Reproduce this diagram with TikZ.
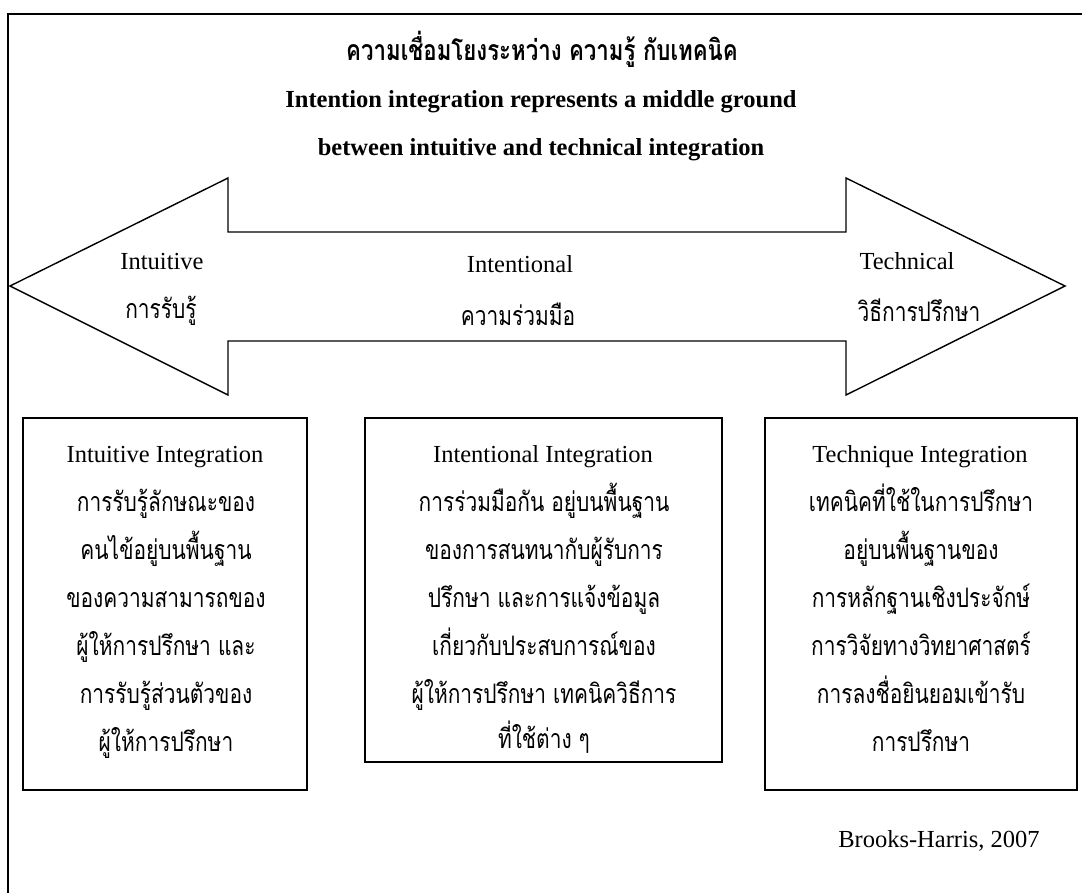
\documentclass[tikz,border=0pt]{standalone}
\usepackage{fontspec}
\setmainfont{Liberation Serif}
\newfontfamily\thai[Script=Thai, FakeStretch=0.78]{Loma}
\begin{document}
\begin{tikzpicture}[x=1pt,y=-1pt,
  en/.style={font=\fontsize{24.5}{29}\selectfont, inner sep=0pt, anchor=base},
  th/.style={font=\thai\fontsize{26.8}{29}\selectfont, inner sep=0pt, anchor=base},
  ttl/.style={font=\bfseries\fontsize{24.5}{29}\selectfont, inner sep=0pt, anchor=base},
  ttlth/.style={font=\thai\bfseries\fontsize{28.5}{29}\selectfont, inner sep=0pt, anchor=base},
  frame/.style={line width=2pt, line cap=rect},
  bigarrow/.style={draw, line width=1.4pt, line join=miter},
  box/.style={draw, line width=1.6pt, rectangle, inner sep=0pt}]
\useasboundingbox (0,0) rectangle (1082,892);

% outer frame (top and left edges)
\draw[frame] (8,892) -- (8,14) -- (1082,14);

% title
\node[ttlth] (t1) at (542,60) {ความเชื่อมโยงระหว่าง ความรู้ กับเทคนิค};
\node[ttl] (t2) at (541,107) {Intention integration represents a middle ground};
\node[ttl] (t3) at (541,155) {between intuitive and technical integration};

% double-headed block arrow
\draw[bigarrow] (10,286) -- (228,178) -- (228,232) -- (846,232) -- (846,178)
  -- (1065,286) -- (846,395) -- (846,341) -- (228,341) -- (228,395) -- cycle;

\node[en] (a1) at (162,269) {Intuitive};
\node[th] (a2) at (161,318) {การรับรู้};
\node[en] (b1) at (520,272) {Intentional};
\node[th] (b2) at (518,325) {ความร่วมมือ};
\node[en] (c1) at (907,269) {Technical};
\node[th] (c2) at (919,321) {วิธีการปรึกษา};

% three boxes
\node[box, minimum width=284pt, minimum height=372pt] (L) at (165,604) {};
\node[box, minimum width=357pt, minimum height=344pt] (M) at (543.5,590) {};
\node[box, minimum width=312pt, minimum height=372pt] (R) at (921,604) {};

% left box text
\node[en] (l0) at (165,462) {Intuitive Integration};
\node[th] (l1) at (166,511) {การรับรู้ลักษณะของ};
\node[th] (l2) at (166,559) {คนไข้อยู่บนพื้นฐาน};
\node[th] (l3) at (166,607) {ของความสามารถของ};
\node[th] (l4) at (166,655) {ผู้ให้การปรึกษา และ};
\node[th] (l5) at (166,703) {การรับรู้ส่วนตัวของ};
\node[th] (l6) at (166,751) {ผู้ให้การปรึกษา};

% middle box text
\node[en] (m0) at (543,462) {Intentional Integration};
\node[th] (m1) at (544,511) {การร่วมมือกัน อยู่บนพื้นฐาน};
\node[th] (m2) at (544,559) {ของการสนทนากับผู้รับการ};
\node[th] (m3) at (544,607) {ปรึกษา และการแจ้งข้อมูล};
\node[th] (m4) at (544,655) {เกี่ยวกับประสบการณ์ของ};
\node[th] (m5) at (544,703) {ผู้ให้การปรึกษา เทคนิควิธีการ};
\node[th] (m6) at (544,748) {ที่ใช้ต่าง ๆ};

% right box text
\node[en] (r0) at (920,462) {Technique Integration};
\node[th] (r1) at (921,511) {เทคนิคที่ใช้ในการปรึกษา};
\node[th] (r2) at (921,559) {อยู่บนพื้นฐานของ};
\node[th] (r3) at (921,607) {การหลักฐานเชิงประจักษ์};
\node[th] (r4) at (921,655) {การวิจัยทางวิทยาศาสตร์};
\node[th] (r5) at (921,703) {การลงชื่อยินยอมเข้ารับ};
\node[th] (r6) at (921,751) {การปรึกษา};

% source
\node[en] (src) at (939,847) {Brooks-Harris, 2007};
\end{tikzpicture}
\end{document}
